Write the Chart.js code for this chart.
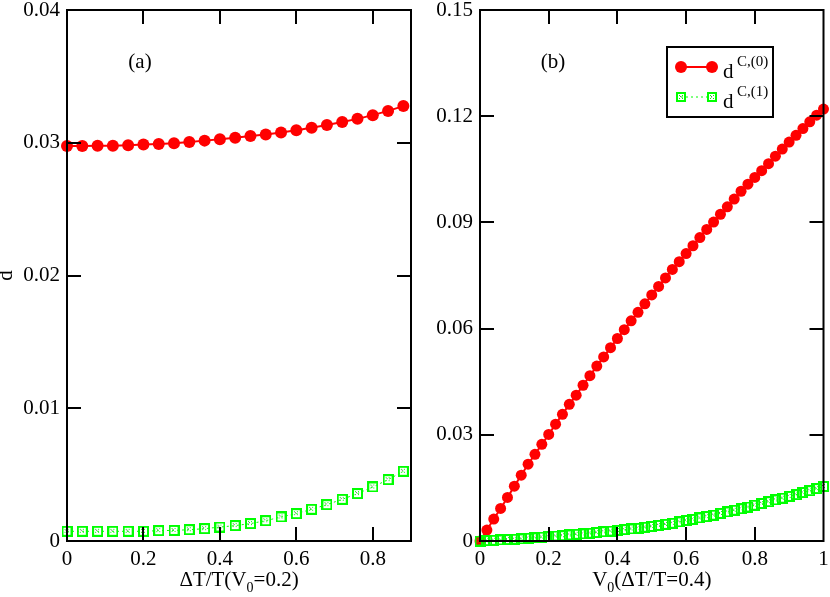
<!DOCTYPE html>
<html>
<head>
<meta charset="utf-8">
<script src="https://cdn.jsdelivr.net/npm/chart.js@4"></script>
<style>
  body { margin: 0; background: #fff; }
  #wrap { position: relative; width: 830px; height: 597px; }
  #chartA { position: absolute; left: 0; top: 0; }
  #chartB { position: absolute; left: 413px; top: 0; }
</style>
</head>
<body>
<div id="wrap">
  <canvas id="chartA" width="420" height="597"></canvas>
  <canvas id="chartB" width="417" height="597"></canvas>
</div>
<script>
// panel (a): d against dT/T at V0 = 0.2
const aX = [0, 0.04, 0.08, 0.12, 0.16, 0.2, 0.24, 0.28, 0.32, 0.36, 0.4, 0.44,
            0.48, 0.52, 0.56, 0.6, 0.64, 0.68, 0.72, 0.76, 0.8, 0.84, 0.88];
const aD0 = [0.02976, 0.02976, 0.02978, 0.02978, 0.02981, 0.02986, 0.02991, 0.02996,
             0.03006, 0.03016, 0.03026, 0.03038, 0.03051, 0.03063, 0.03077, 0.03094,
             0.03113, 0.03134, 0.03156, 0.03180, 0.03208, 0.03240, 0.03276];
const aD1 = [0.00073, 0.00073, 0.00073, 0.00073, 0.00073, 0.00073, 0.00078, 0.00080,
             0.00085, 0.00093, 0.00105, 0.00116, 0.00131, 0.00153, 0.00181, 0.00206,
             0.00239, 0.00274, 0.00314, 0.00357, 0.00407, 0.00462, 0.00525];
const aXTicks = [0, 0.2, 0.4, 0.6, 0.8];
const aYTicks = [0, 0.01, 0.02, 0.03, 0.04];

// panel (b): d against V0 at dT/T = 0.4
const bX = [0, 0.02, 0.04, 0.06, 0.08, 0.1, 0.12, 0.14, 0.16, 0.18, 0.2, 0.22, 0.24,
            0.26, 0.28, 0.3, 0.32, 0.34, 0.36, 0.38, 0.4, 0.42, 0.44, 0.46, 0.48, 0.5,
            0.52, 0.54, 0.56, 0.58, 0.6, 0.62, 0.64, 0.66, 0.68, 0.7, 0.72, 0.74, 0.76,
            0.78, 0.8, 0.82, 0.84, 0.86, 0.88, 0.9, 0.92, 0.94, 0.96, 0.98, 1];
const bD0 = [0, 0.0031, 0.0062, 0.0092, 0.0123, 0.0155, 0.0186, 0.0217, 0.0245, 0.0273,
             0.0301, 0.0330, 0.0358, 0.0386, 0.0412, 0.0440, 0.0467, 0.0494, 0.0520,
             0.0546, 0.0572, 0.0597, 0.0622, 0.0646, 0.0670, 0.0695, 0.0719, 0.0743,
             0.0767, 0.0789, 0.0812, 0.0834, 0.0857, 0.0880, 0.0901, 0.0923, 0.0944,
             0.0966, 0.0988, 0.1008, 0.1027, 0.1046, 0.1066, 0.1087, 0.1107, 0.1127,
             0.1146, 0.1165, 0.1184, 0.1203, 0.1220];
const bD1 = [0, 0.0001, 0.0002, 0.0003, 0.0004, 0.0005, 0.0006, 0.0008, 0.0009, 0.0011,
             0.0012, 0.0014, 0.0015, 0.0017, 0.0019, 0.0020, 0.0022, 0.0024, 0.0026,
             0.0028, 0.0030, 0.0032, 0.0034, 0.0036, 0.0039, 0.0041, 0.0044, 0.0047,
             0.0050, 0.0054, 0.0058, 0.0061, 0.0065, 0.0069, 0.0073, 0.0078, 0.0082,
             0.0087, 0.0091, 0.0096, 0.0101, 0.0106, 0.0111, 0.0116, 0.0121, 0.0126,
             0.0131, 0.0137, 0.0142, 0.0148, 0.0154];
const bXTicks = [0, 0.2, 0.4, 0.6, 0.8, 1];
const bYTicks = [0, 0.03, 0.06, 0.09, 0.12, 0.15];

const RED = '#ff0000';
const GREEN = '#00ff00';
const FONT = '"Liberation Serif", "Times New Roman", serif';
const FS = 21;

// small open square with a dotted cross inside (grace style symbol)
function boxMarker(size) {
    const c = document.createElement('canvas');
    c.width = size; c.height = size;
    const g = c.getContext('2d');
    g.strokeStyle = GREEN;
    g.lineWidth = 2;
    g.strokeRect(1, 1, size - 2, size - 2);
    g.fillStyle = GREEN;
    const m = Math.floor(size / 2);
    [[m - 2, m - 2], [m + 1, m - 2], [m - 2, m + 1], [m + 1, m + 1]].forEach(p => g.fillRect(p[0], p[1], 1, 1));
    g.fillStyle = '#666';
    g.fillRect(m - 1, m - 1, 1, 1);
    return c;
}

// draw text with sub/superscript parts, anchored at x (left or center)
function richText(ctx, parts, x, y, align) {
    let total = 0;
    parts.forEach(p => {
        ctx.font = (p.size || FS) + 'px ' + FONT;
        p.w = ctx.measureText(p.t).width;
        total += p.w;
    });
    let cx = align === 'center' ? x - total / 2 : x;
    parts.forEach(p => {
        ctx.font = (p.size || FS) + 'px ' + FONT;
        ctx.fillText(p.t, cx, y + (p.dy || 0));
        cx += p.w;
    });
}

const framePlugin = {
    id: 'frame',
    afterDatasetsDraw(chart, args, opts) {
        const { ctx, chartArea: a, scales } = chart;
        ctx.save();
        ctx.strokeStyle = '#000';
        ctx.lineWidth = 2;
        ctx.beginPath();
        scales.x.ticks.forEach(t => {
            const px = Math.round(scales.x.getPixelForValue(t.value));
            if (px <= a.left + 1 || px >= a.right - 1) return;
            ctx.moveTo(px, a.bottom); ctx.lineTo(px, a.bottom - 14);
            ctx.moveTo(px, a.top); ctx.lineTo(px, a.top + 14);
        });
        scales.y.ticks.forEach(t => {
            const py = Math.round(scales.y.getPixelForValue(t.value));
            if (py <= a.top + 1 || py >= a.bottom - 1) return;
            ctx.moveTo(a.left, py); ctx.lineTo(a.left + 14, py);
            ctx.moveTo(a.right, py); ctx.lineTo(a.right - 14, py);
        });
        ctx.stroke();
        ctx.strokeRect(a.left, a.top, a.right - a.left, a.bottom - a.top);

        // texts
        ctx.fillStyle = '#000';
        ctx.textBaseline = 'alphabetic';
        ctx.textAlign = 'left';
        richText(ctx, opts.xTitle, (a.left + a.right) / 2, a.bottom + 45, 'center');
        richText(ctx, [{ t: opts.label }], a.left + 73, a.top + 58, 'center');
        if (opts.yTitle) {
            ctx.save();
            ctx.translate(12, (a.top + a.bottom) / 2);
            ctx.rotate(-Math.PI / 2);
            richText(ctx, [{ t: opts.yTitle }], 0, 0, 'center');
            ctx.restore();
        }
        if (opts.legend) {
            const lx = a.left + 187, ly = a.top + 37;
            ctx.fillStyle = '#fff';
            ctx.fillRect(lx, ly, 106, 70);
            ctx.strokeStyle = '#000';
            ctx.lineWidth = 2;
            ctx.strokeRect(lx, ly, 106, 70);
            // row 1
            ctx.strokeStyle = RED;
            ctx.beginPath();
            ctx.moveTo(lx + 14, ly + 20); ctx.lineTo(lx + 45, ly + 20);
            ctx.stroke();
            ctx.fillStyle = RED;
            [lx + 14, lx + 45].forEach(px => {
                ctx.beginPath();
                ctx.arc(px, ly + 20, 6, 0, Math.PI * 2);
                ctx.fill();
            });
            // row 2
            ctx.strokeStyle = GREEN;
            ctx.lineWidth = 1;
            ctx.setLineDash([2, 3]);
            ctx.beginPath();
            ctx.moveTo(lx + 14, ly + 50); ctx.lineTo(lx + 45, ly + 50);
            ctx.stroke();
            ctx.setLineDash([]);
            const mk = boxMarker(10);
            [lx + 14, lx + 45].forEach(px => ctx.drawImage(mk, px - 5, ly + 45));
            ctx.fillStyle = '#000';
            opts.legend.forEach((name, i) => {
                const base = ly + 31 + i * 30;
                richText(ctx, [{ t: 'd' }], lx + 56, base, 'left');
                richText(ctx, [{ t: name, size: 15 }], lx + 70, base - 12, 'left');
            });
        }
        ctx.restore();
    }
};

function makeScales(xMin, xMax, xTicks, yMin, yMax, yTicks) {
    const tickFont = { family: FONT, size: FS };
    return {
        x: {
            type: 'linear', min: xMin, max: xMax,
            grid: { display: false, drawTicks: false },
            border: { display: false },
            ticks: {
                font: tickFont, color: '#000', padding: 6, maxRotation: 0,
                callback: v => String(v)
            },
            afterBuildTicks: s => { s.ticks = xTicks.map(v => ({ value: v })); },
            afterFit: s => { s.height = 56; s.paddingLeft = 0; s.paddingRight = 0; }
        },
        y: {
            type: 'linear', min: yMin, max: yMax,
            grid: { display: false, drawTicks: false },
            border: { display: false },
            ticks: {
                font: tickFont, color: '#000', padding: 7,
                callback: v => String(v)
            },
            afterBuildTicks: s => { s.ticks = yTicks.map(v => ({ value: v })); },
            afterFit: s => { s.width = 67; s.paddingTop = 0; s.paddingBottom = 0; }
        }
    };
}

function makeDatasets(xs, d0, d1, radius, boxSize) {
    return [
        {
            label: 'd C,(0)',
            data: xs.map((x, i) => ({ x: x, y: d0[i] })),
            borderColor: RED, backgroundColor: RED, borderWidth: 2,
            pointRadius: radius, pointBorderWidth: 0, pointBackgroundColor: RED,
            tension: 0, clip: false, order: 2
        },
        {
            label: 'd C,(1)',
            data: xs.map((x, i) => ({ x: x, y: d1[i] })),
            borderColor: GREEN, borderWidth: 1, borderDash: [2, 3],
            pointStyle: boxMarker(boxSize), pointRadius: boxSize / 2,
            tension: 0, clip: false, order: 1
        }
    ];
}

function baseOptions(pad, scales, frame) {
    return {
        responsive: false,
        animation: false,
        devicePixelRatio: 1,
        layout: { padding: pad },
        scales: scales,
        plugins: { legend: { display: false }, tooltip: { enabled: false }, frame: frame }
    };
}

new Chart(document.getElementById('chartA'), {
    type: 'line',
    data: { datasets: makeDatasets(aX, aD0, aD1, 6, 11) },
    options: baseOptions({ top: 10, right: 9, bottom: 0, left: 0 },
        makeScales(0, 0.9, aXTicks, 0, 0.04, aYTicks),
        {
            xTitle: [{ t: '\u0394T/T(V' }, { t: '0', size: 14, dy: 6 }, { t: '=0.2)' }],
            yTitle: 'd', label: '(a)'
        }),
    plugins: [framePlugin]
});

new Chart(document.getElementById('chartB'), {
    type: 'line',
    data: { datasets: makeDatasets(bX, bD0, bD1, 5.5, 11) },
    options: baseOptions({ top: 10, right: 6, bottom: 0, left: 0 },
        makeScales(0, 1, bXTicks, 0, 0.15, bYTicks),
        {
            xTitle: [{ t: 'V' }, { t: '0', size: 14, dy: 6 }, { t: '(\u0394T/T=0.4)' }],
            label: '(b)', legend: ['C,(0)', 'C,(1)']
        }),
    plugins: [framePlugin]
});
</script>
</body>
</html>
